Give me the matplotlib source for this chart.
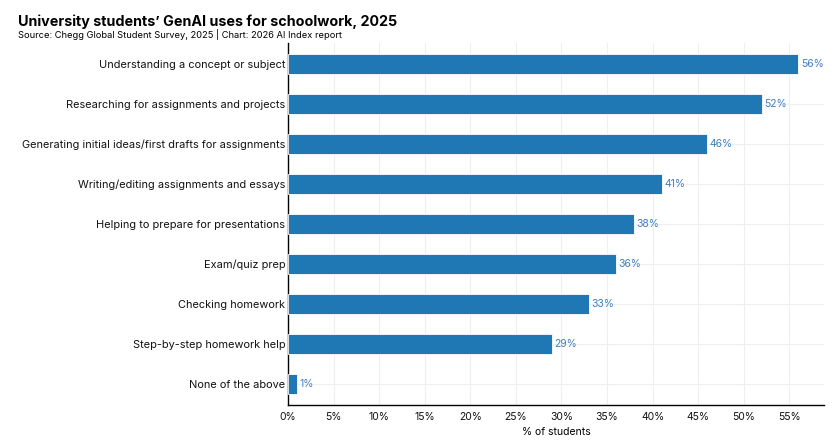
import matplotlib.pyplot as plt

plt.rcParams['font.family'] = ['Inter', 'DejaVu Sans']

uses = [
    "Understanding a concept or subject",
    "Researching for assignments and projects",
    "Generating initial ideas/first drafts for assignments",
    "Writing/editing assignments and essays",
    "Helping to prepare for presentations",
    "Exam/quiz prep",
    "Checking homework",
    "Step-by-step homework help",
    "None of the above",
]
pct = [56, 52, 46, 41, 38, 36, 33, 29, 1]
xticks = [0, 5, 10, 15, 20, 25, 30, 35, 40, 45, 50, 55]

fig = plt.figure(figsize=(8.37, 4.47), dpi=100)
ax = fig.add_axes([0.344, 0.094, 0.6405, 0.81])

ypos = list(range(len(uses)))[::-1]
ax.barh(ypos, pct, height=0.5, color="#1f77b4", edgecolor="white", linewidth=0.6, zorder=3)
for y, v in zip(ypos, pct):
    ax.text(v + 0.25, y, f"{v}%", va="center", ha="left", fontsize=7.5, color="#3f7fc0", zorder=4)

ax.set_yticks(ypos)
ax.set_yticklabels(uses, fontsize=7.9, color="#111111")
ax.set_xticks(xticks)
ax.set_xticklabels([f"{t}%" for t in xticks], fontsize=7.5, color="#111111")
ax.set_xlim(0, 58.8)
ax.set_ylim(-0.53, 8.53)
ax.tick_params(axis="y", length=0, pad=2)
ax.tick_params(axis="x", length=0, pad=5)
ax.set_xlabel("% of students", fontsize=7.5, labelpad=4)

ax.grid(True, color="#efefef", linewidth=0.8, zorder=0)
for s in ["top", "right"]:
    ax.spines[s].set_visible(False)
for s in ["left", "bottom"]:
    ax.spines[s].set_color("black")
    ax.spines[s].set_linewidth(1.0)

fig.text(0.021, 0.942, "University students\u2019 GenAI uses for schoolwork, 2025",
         fontsize=10.3, fontweight="bold", ha="left", va="baseline")
fig.text(0.021, 0.915, "Source: Chegg Global Student Survey, 2025 | Chart: 2026 AI Index report",
         fontsize=6.7, ha="left", va="baseline")

fig.savefig("out.png", dpi=100)
